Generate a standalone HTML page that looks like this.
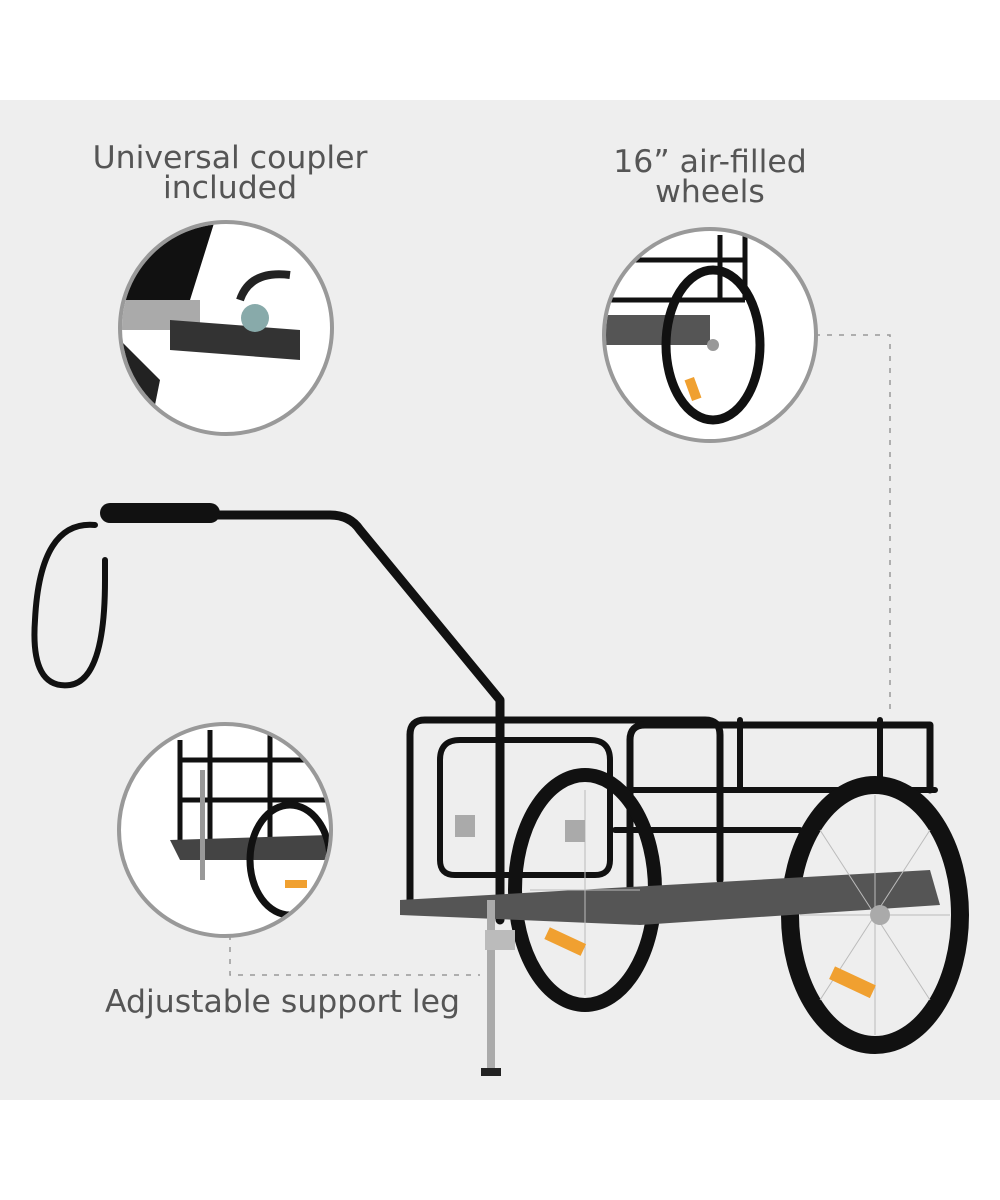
<!DOCTYPE html>
<html><head><meta charset="utf-8"><style>
html,body{margin:0;padding:0;background:#fff;}
svg{display:block}
text{font-family:"DejaVu Sans","Liberation Sans",sans-serif;fill:#555;font-size:31.5px}
</style></head><body>
<svg width="1000" height="1200" viewBox="0 0 1000 1200" xmlns="http://www.w3.org/2000/svg">
<rect x="0" y="100" width="1000" height="1000" fill="#eeeeee"/>
<text x="230" y="168" text-anchor="middle">Universal coupler</text>
<text x="230" y="198" text-anchor="middle">included</text>
<text x="710" y="172" text-anchor="middle">16” air-filled</text>
<text x="710" y="202" text-anchor="middle">wheels</text>
<text x="105" y="1012">Adjustable support leg</text>
<path d="M815 335 H890 V710" fill="none" stroke="#999" stroke-width="1.5" stroke-dasharray="5,7"/>
<path d="M230 935 V975 H480" fill="none" stroke="#999" stroke-width="1.5" stroke-dasharray="5,7"/>
<defs>
<clipPath id="c1"><circle cx="226" cy="328" r="104"/></clipPath>
<clipPath id="c2"><circle cx="710" cy="335" r="104"/></clipPath>
<clipPath id="c3"><circle cx="225" cy="830" r="104"/></clipPath>
</defs>
<circle cx="226" cy="328" r="106" fill="#fff" stroke="#999" stroke-width="4"/>
<g clip-path="url(#c1)">
<path d="M130 220 L215 220 L190 300 L120 300Z" fill="#111"/>
<rect x="120" y="300" width="80" height="30" fill="#aaa"/>
<path d="M170 320 L300 330 L300 360 L170 350Z" fill="#333"/>
<circle cx="255" cy="318" r="14" fill="#8aa"/>
<path d="M240 300 q10 -30 50 -25" fill="none" stroke="#222" stroke-width="8"/>
<path d="M120 340 L160 380 L150 430 L120 430Z" fill="#222"/>
</g>
<circle cx="710" cy="335" r="106" fill="#fff" stroke="#999" stroke-width="4"/>
<g clip-path="url(#c2)">
<path d="M600 260 H745 M600 300 H745 M745 230 V300 M720 235 V300" stroke="#111" stroke-width="5" fill="none"/>
<rect x="600" y="315" width="110" height="30" fill="#555"/>
<ellipse cx="713" cy="345" rx="47" ry="75" fill="none" stroke="#111" stroke-width="9"/>
<circle cx="713" cy="345" r="6" fill="#999"/>
<rect x="688" y="378" width="10" height="22" fill="#f0a030" transform="rotate(-20 693 389)"/>
</g>
<circle cx="225" cy="830" r="106" fill="#fff" stroke="#999" stroke-width="4"/>
<g clip-path="url(#c3)">
<path d="M180 740 V840 M210 730 V845 M180 760 H330 M180 800 H330 M270 735 V840" stroke="#111" stroke-width="5" fill="none"/>
<path d="M170 840 L330 835 L330 860 L180 860Z" fill="#444"/>
<ellipse cx="290" cy="860" rx="40" ry="55" fill="none" stroke="#111" stroke-width="7"/>
<rect x="200" y="770" width="5" height="110" fill="#999"/>
<rect x="285" y="880" width="22" height="8" fill="#f0a030"/>
</g>
<g fill="none" stroke="#111" stroke-linecap="round" stroke-linejoin="round">
<path d="M105 515 H330 Q350 515 360 530 L500 700 V920" stroke-width="9"/>
<path d="M110 513 H210" stroke-width="20"/>
<path d="M95 525 Q40 520 35 620 Q30 690 70 685 Q105 680 105 580 V560" stroke-width="6"/>
<path d="M410 735 Q410 720 425 720 H705 Q720 720 720 735 V880" stroke-width="7"/>
<path d="M440 760 V860 Q440 875 455 875 H595 Q610 875 610 860 V760 Q610 740 590 740 H460 Q440 740 440 760" stroke-width="6"/>
<path d="M630 740 Q630 725 645 725 H930 V790" stroke-width="7"/>
<path d="M740 720 V790 M880 720 V780 M615 790 H935 M615 830 H800" stroke-width="6"/>
<path d="M410 735 V900 M630 740 V900" stroke-width="7"/>
<path d="M445 720 H630" stroke-width="7"/>
<ellipse cx="585" cy="890" rx="70" ry="115" stroke-width="14"/>
<ellipse cx="875" cy="915" rx="85" ry="130" stroke-width="18"/>
</g>
<path d="M400 900 L930 870 L940 905 L640 925 L400 915Z" fill="#555"/>
<g stroke="#bbb" stroke-width="1">
<path d="M875 915 L875 795 M875 915 L875 1035 M875 915 L800 915 M875 915 L950 915 M875 915 L820 830 M875 915 L930 1000 M875 915 L930 830 M875 915 L820 1000"/>
<path d="M585 890 L585 790 M585 890 L585 995 M585 890 L530 890 M585 890 L640 890"/>
</g>
<circle cx="880" cy="915" r="10" fill="#aaa"/>
<rect x="830" y="975" width="45" height="14" fill="#f0a030" transform="rotate(25 852 982)"/>
<rect x="545" y="935" width="40" height="13" fill="#f0a030" transform="rotate(25 565 942)"/>
<rect x="455" y="815" width="20" height="22" fill="#aaa"/>
<rect x="565" y="820" width="20" height="22" fill="#aaa"/>
<rect x="487" y="900" width="8" height="170" fill="#aaa"/>
<rect x="485" y="930" width="30" height="20" fill="#bbb"/>
<rect x="481" y="1068" width="20" height="8" fill="#222"/>
</svg>
</body></html>
